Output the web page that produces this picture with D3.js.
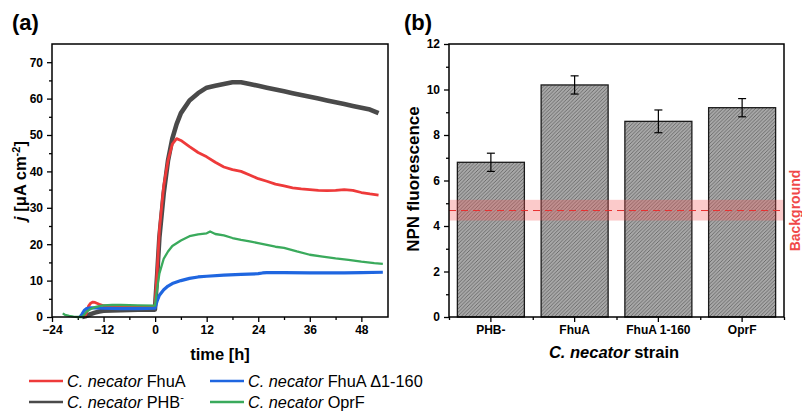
<!DOCTYPE html>
<html><head><meta charset="utf-8">
<script src="https://cdn.jsdelivr.net/npm/d3@7"></script>
<style>body{margin:0;background:#fff} svg{font-family:"Liberation Sans",Arial,sans-serif}</style>
</head><body><svg id="c" width="802" height="413"></svg>
<script>
// ---------- Panel (a) data: time [h] and current density j [uA cm^-2] ----------
const phbT = [-17,-16,-15,-14,-13,-12,-10,-8,-6,-4,-2,-0.05,0.5,1,2,3,4,5,6,8,10,12,14,16,18,20,22,24,26,28,30,32,34,36,38,40,42,44,46,48,50,51,52];
const phbJ = [0,0.3,0.8,1.2,1.5,1.7,1.8,1.9,1.95,2.0,2.0,2.0,12,22,34,43,49,53,56,59.5,61.5,63,63.5,64,64.5,64.5,64,63.5,63,62.5,62,61.5,61,60.5,60,59.5,59,58.5,58,57.5,57,56.5,56];
const fhuaT = [-16.5,-16,-15.5,-15,-14.5,-14,-13,-12,-10,-6,-2,-0.05,0.5,1,2,3,4,5,6,8,10,12,14,16,18,20,22,24,26,28,30,32,34,36,38,40,42,44,46,48,50,52];
const fhuaJ = [0,1,3,3.8,4.1,4.0,3.5,3.1,3.0,2.9,2.9,2.9,13,24,36,43,47.5,49,48.5,46.8,45.2,44,42.5,41.2,40.5,40,39,38,37.3,36.5,36,35.5,35.2,35,34.8,34.7,34.8,35,34.8,34.2,33.8,33.5];
const d160T = [-17.5,-17,-16.5,-16,-15,-14,-12,-8,-4,-0.05,0.5,1,2,3,4,6,8,10,12,16,20,24,25,26,30,36,40,44,48,53];
const d160J = [0,0.8,1.8,2.3,2.5,2.5,2.4,2.3,2.3,2.4,4.5,6,7.5,8.5,9.2,10,10.6,11,11.2,11.5,11.7,11.9,12.1,12.2,12.2,12.1,12.1,12.1,12.2,12.3];
const oprfT = [-21.5,-21,-20,-19,-18,-17,-16.5,-16,-15,-14,-13,-12,-10,-8,-4,-0.05,0.5,1,2,3,4,6,8,10,12,12.8,14,16,18,20,22,24,26,28,30,33,36,39,42,45,48,51,53];
const oprfJ = [1.0,0.6,0.3,0.1,0,0,0.6,1.4,2.2,2.7,3.0,3.2,3.3,3.3,3.2,3.1,8,12,16,18,19.5,21,22.2,22.7,23,23.5,22.8,22.4,21.7,21.2,20.8,20.3,19.8,19.3,19,18,17.1,16.6,16.1,15.7,15.2,14.8,14.6];
const xTicksA = [-24,-12,0,12,24,36,48];
const yTicksA = [0,10,20,30,40,50,60,70];

// ---------- Panel (b) data ----------
const strains = ["PHB-","FhuA","FhuA 1-160","OprF"];
const npn = [6.8,10.2,8.6,9.2];
const npnErr = [0.4,0.4,0.5,0.4];
const bgMean = 4.68, bgLow = 4.24, bgHigh = 5.15;
const yTicksB = [0,2,4,6,8,10,12];

const svg = d3.select("#c");
const FF = "'Liberation Sans', Arial, sans-serif";
const tickFont = "bold 12px " + FF;
const titleFont = "bold 16.5px " + FF;

// ================= Panel (a) =================
const xa = d3.scaleLinear([-24,54.2],[52,388]);
const ya = d3.scaleLinear([0,75],[317,44]);
const gA = svg.append("g");

function styleAxis(g){
  g.select(".domain").remove();
  g.selectAll("line").attr("stroke","#000").attr("stroke-width",1.3);
  g.selectAll("text").style("font",tickFont).attr("fill","#000");
}
gA.append("g").attr("transform","translate(0,317)")
  .call(d3.axisBottom(xa).tickValues(d3.range(-18,54,12)).tickSize(3).tickFormat("")).call(styleAxis);
gA.append("g").attr("transform","translate(0,317)")
  .call(d3.axisBottom(xa).tickValues(xTicksA).tickSize(5).tickPadding(3).tickFormat(d=>d<0?"\u2212"+(-d):d)).call(styleAxis);
gA.append("g").attr("transform","translate(52,0)")
  .call(d3.axisLeft(ya).tickValues(d3.range(5,75,10)).tickSize(3).tickFormat("")).call(styleAxis);
gA.append("g").attr("transform","translate(52,0)")
  .call(d3.axisLeft(ya).tickValues(yTicksA).tickSize(5).tickPadding(4)).call(styleAxis);

const series = [
  {t:oprfT, j:oprfJ, c:"#3aaa5c", w:2.3},
  {t:d160T, j:d160J, c:"#1f66e0", w:3.2},
  {t:phbT, j:phbJ, c:"#4a4a4a", w:4.6},
  {t:fhuaT, j:fhuaJ, c:"#ee3a3a", w:2.8}
];
const line = d3.line().x(d=>xa(d[0])).y(d=>ya(d[1]));
[series[2],series[3],series[1],series[0]].forEach(s=>{
  gA.append("path").datum(s.t.map((t,i)=>[t,s.j[i]]))
    .attr("d",line).attr("fill","none").attr("stroke",s.c).attr("stroke-width",s.w).attr("stroke-linejoin","round");
});
gA.append("rect").attr("x",52).attr("y",44).attr("width",336).attr("height",273)
  .attr("fill","none").attr("stroke","#000").attr("stroke-width",1.5);

gA.append("text").attr("x",12).attr("y",30).style("font","bold 22px " + FF).text("(a)");
gA.append("text").attr("x",220).attr("y",360).attr("text-anchor","middle")
  .style("font",titleFont).text("time [h]");
const yl = gA.append("text").attr("transform","translate(26,181) rotate(-90)").attr("text-anchor","middle")
  .style("font",titleFont);
yl.append("tspan").attr("font-style","italic").text("j");
yl.append("tspan").text(" [\u03bcA cm");
yl.append("tspan").attr("dy",-6).style("font-size","11px").text("-2");
yl.append("tspan").attr("dy",6).text("]");

// Legend
const legend = [
  {c:"#ee3a3a", x:29, y:381, name:" FhuA"},
  {c:"#1f66e0", x:210, y:381, name:" FhuA \u03941-160"},
  {c:"#4a4a4a", x:29, y:402, name:" PHB", sup:"-"},
  {c:"#3aaa5c", x:210, y:402, name:" OprF"}
];
legend.forEach(l=>{
  gA.append("line").attr("x1",l.x).attr("x2",l.x+34).attr("y1",l.y).attr("y2",l.y)
    .attr("stroke",l.c).attr("stroke-width",2.5);
  const t = gA.append("text").attr("x",l.x+38).attr("y",l.y+5.5)
    .style("font","16.3px " + FF);
  t.append("tspan").attr("font-style","italic").text("C. necator");
  t.append("tspan").text(l.name);
  if(l.sup) t.append("tspan").attr("dy",-7).style("font-size","11px").text(l.sup);
});

// ================= Panel (b) =================
const xb = d3.scaleBand(strains,[449,784]).paddingInner(0.2).paddingOuter(0.1);
const yb = d3.scaleLinear([0,12],[317,44]);
const gB = svg.append("g");

const defs = svg.append("defs");
const pat = defs.append("pattern").attr("id","hatch").attr("patternUnits","userSpaceOnUse")
  .attr("width",3.6).attr("height",3.6);
pat.append("rect").attr("width",3.6).attr("height",3.6).attr("fill","#a8a8a8");
pat.append("path").attr("d","M-0.9,0.9 L0.9,-0.9 M0,3.6 L3.6,0 M2.7,4.5 L4.5,2.7")
  .attr("stroke","#5e5e5e").attr("stroke-width",0.8);

gB.append("g").attr("transform","translate(0,317)")
  .call(d3.axisBottom(d3.scaleLinear([0,4],[449,784])).tickValues([0,1,2,3,4]).tickSize(3).tickFormat("")).call(styleAxis);
gB.append("g").attr("transform","translate(0,317)")
  .call(d3.axisBottom(xb).tickSize(5).tickPadding(3)).call(styleAxis);
gB.append("g").attr("transform","translate(449,0)")
  .call(d3.axisLeft(yb).tickValues(d3.range(1,12,2)).tickSize(3).tickFormat("")).call(styleAxis);
gB.append("g").attr("transform","translate(449,0)")
  .call(d3.axisLeft(yb).tickValues(yTicksB).tickSize(5).tickPadding(4)).call(styleAxis);

gB.selectAll("rect.bar").data(strains).join("rect").attr("class","bar")
  .attr("x",d=>xb(d)).attr("width",xb.bandwidth())
  .attr("y",(d,i)=>yb(npn[i])).attr("height",(d,i)=>yb(0)-yb(npn[i]))
  .attr("fill","url(#hatch)").attr("stroke","#1a1a1a").attr("stroke-width",1.3);

// background band
gB.append("rect").attr("x",449).attr("width",335).attr("y",yb(bgHigh)).attr("height",yb(bgLow)-yb(bgHigh))
  .attr("fill","#f25a5a").attr("fill-opacity",0.32);
gB.append("line").attr("x1",449).attr("x2",784).attr("y1",yb(bgMean)).attr("y2",yb(bgMean))
  .attr("stroke","#e83030").attr("stroke-width",1).attr("stroke-dasharray","7,5");

// error bars
strains.forEach((s,i)=>{
  const cx = xb(s)+xb.bandwidth()/2;
  const g = gB.append("g").attr("stroke","#000").attr("stroke-width",1.2);
  g.append("line").attr("x1",cx).attr("x2",cx).attr("y1",yb(npn[i]-npnErr[i])).attr("y2",yb(npn[i]+npnErr[i]));
  [npn[i]-npnErr[i], npn[i]+npnErr[i]].forEach(v=>
    g.append("line").attr("x1",cx-4).attr("x2",cx+4).attr("y1",yb(v)).attr("y2",yb(v)));
});

gB.append("rect").attr("x",449).attr("y",44).attr("width",335).attr("height",273)
  .attr("fill","none").attr("stroke","#000").attr("stroke-width",1.5);

gB.append("text").attr("x",404).attr("y",30).style("font","bold 22px " + FF).text("(b)");
const xl = gB.append("text").attr("x",614).attr("y",358).attr("text-anchor","middle")
  .style("font",titleFont);
xl.append("tspan").attr("font-style","italic").text("C. necator");
xl.append("tspan").text(" strain");
gB.append("text").attr("transform","translate(419,179) rotate(-90)").attr("text-anchor","middle")
  .style("font","bold 17px " + FF).text("NPN fluorescence");
gB.append("text").attr("transform",`translate(800,${yb(bgMean)}) rotate(-90)`).attr("text-anchor","middle")
  .attr("fill","#f04848").style("font","bold 14px " + FF).text("Background");
</script></body></html>
